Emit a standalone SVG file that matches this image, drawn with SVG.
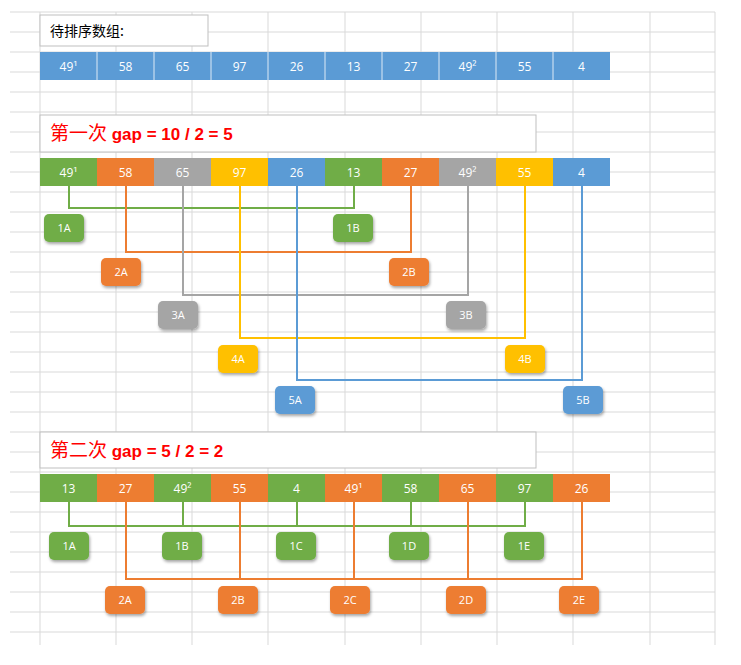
<svg xmlns="http://www.w3.org/2000/svg" width="741" height="665" viewBox="0 0 741 665">
<defs>
<style>
.g{stroke:#d9d9d9;stroke-width:1}
.c{stroke:#fff;stroke-width:0.8}
.ct{font-family:"Open Sans","Liberation Sans",sans-serif;font-size:12px;fill:#fff;text-anchor:middle}
.bt{font-family:"Open Sans","Liberation Sans",sans-serif;font-size:11px;fill:#fff;text-anchor:middle}
.tt{font-family:"Liberation Sans","Noto Sans CJK SC",sans-serif;font-weight:bold;font-size:17px;fill:#ff0000}
.box{fill:#fff;stroke:#bfbfbf;stroke-width:1}
.ln{fill:none;stroke-width:2}
.B{fill:#5b9bd5}.G{fill:#70ad47}.O{fill:#ed7d31}.H{fill:#a5a5a5}.Y{fill:#ffc000}
</style>
<filter id="sh" x="-30%" y="-30%" width="160%" height="160%"><feDropShadow dx="1" dy="2" stdDeviation="1.5" flood-opacity="0.35"/></filter>
</defs>
<rect width="741" height="665" fill="#fff"/>
<g id="grid">
<path class="g" d="M10 12H715M10 32H715M10 52H715M10 72H715M10 92H715M10 112H715M10 132H715M10 152H715M10 172H715M10 192H715M10 212H715M10 232H715M10 252H715M10 272H715M10 292H715M10 312H715M10 332H715M10 352H715M10 372H715M10 392H715M10 412H715M10 432H715M10 452H715M10 472H715M10 492H715M10 512H715M10 532H715M10 552H715M10 572H715M10 592H715M10 612H715M10 632H715"/>
<path class="g" d="M40 12V645M116 12V645M192 12V645M268 12V645M345 12V645M421 12V645M497 12V645M573 12V645M650 12V645M715 12V645"/>
</g>
<g id="title0"><rect class="box" x="40" y="15" width="168" height="31"/><text x="50" y="36" font-family="Noto Sans CJK SC,sans-serif" font-size="14" fill="#000">待排序数组:</text></g>
<g id="row0">
<rect class="B" x="40" y="52" width="570" height="28"/>
<path class="c" d="M97 52V80M154 52V80M211 52V80M268 52V80M325 52V80M382 52V80M439 52V80M496 52V80M553 52V80" stroke="#3f6f9f"/>
<text class="ct" y="71"><tspan x="68.5">49¹</tspan><tspan x="125.5">58</tspan><tspan x="182.5">65</tspan><tspan x="239.5">97</tspan><tspan x="296.5">26</tspan><tspan x="353.5">13</tspan><tspan x="410.5">27</tspan><tspan x="467.5">49²</tspan><tspan x="524.5">55</tspan><tspan x="581.5">4</tspan></text>
</g>
<g id="title1"><rect class="box" x="40" y="115" width="496" height="37"/><text class="tt" x="50" y="140"><tspan font-family="Noto Sans CJK SC,serif" font-weight="normal" font-size="19">第一次</tspan> gap = 10 / 2 = 5</text></g>
<g id="row1">
<rect class="G" x="40" y="158" width="57" height="28"/><rect class="O" x="97" y="158" width="57" height="28"/><rect class="H" x="154" y="158" width="57" height="28"/><rect class="Y" x="211" y="158" width="57" height="28"/><rect class="B" x="268" y="158" width="57" height="28"/><rect class="G" x="325" y="158" width="57" height="28"/><rect class="O" x="382" y="158" width="57" height="28"/><rect class="H" x="439" y="158" width="57" height="28"/><rect class="Y" x="496" y="158" width="57" height="28"/><rect class="B" x="553" y="158" width="57" height="28"/>
<text class="ct" y="177"><tspan x="68.5">49¹</tspan><tspan x="125.5">58</tspan><tspan x="182.5">65</tspan><tspan x="239.5">97</tspan><tspan x="296.5">26</tspan><tspan x="353.5">13</tspan><tspan x="410.5">27</tspan><tspan x="467.5">49²</tspan><tspan x="524.5">55</tspan><tspan x="581.5">4</tspan></text>
</g>
<g id="connectors">
<path class="ln" stroke="#70ad47" d="M69 186V208H354V186"/>
<path class="ln" stroke="#ed7d31" d="M126 186V252H411V186"/>
<path class="ln" stroke="#a5a5a5" d="M183 186V295H468V186"/>
<path class="ln" stroke="#ffc000" d="M240 186V338H525V186"/>
<path class="ln" stroke="#5b9bd5" d="M297 186V380H582V186"/>
<path class="ln" stroke="#70ad47" d="M69 502V526H525V502M183 502V526M297 502V526M411 502V526"/>
<path class="ln" stroke="#ed7d31" d="M126 502V579H582V502M240 502V579M354 502V579M468 502V579"/>
</g>
<g id="badges1" filter="url(#sh)">
<rect class="G" x="44" y="214" width="40" height="28" rx="5"/><rect class="G" x="333" y="214" width="40" height="28" rx="5"/>
<rect class="O" x="101" y="258" width="40" height="28" rx="5"/><rect class="O" x="389" y="258" width="40" height="28" rx="5"/>
<rect class="H" x="158" y="301" width="40" height="28" rx="5"/><rect class="H" x="446" y="301" width="40" height="28" rx="5"/>
<rect class="Y" x="218" y="345" width="40" height="28" rx="5"/><rect class="Y" x="505" y="345" width="40" height="28" rx="5"/>
<rect class="B" x="275" y="386" width="40" height="28" rx="5"/><rect class="B" x="563" y="386" width="40" height="28" rx="5"/>
</g>
<g id="badges1t">
<text class="bt" x="64" y="232">1A</text><text class="bt" x="353" y="232">1B</text>
<text class="bt" x="121" y="276">2A</text><text class="bt" x="409" y="276">2B</text>
<text class="bt" x="178" y="319">3A</text><text class="bt" x="466" y="319">3B</text>
<text class="bt" x="238" y="363">4A</text><text class="bt" x="525" y="363">4B</text>
<text class="bt" x="295" y="404">5A</text><text class="bt" x="583" y="404">5B</text>
</g>
<g id="title2"><rect class="box" x="40" y="432" width="496" height="36"/><text class="tt" x="50" y="457"><tspan font-family="Noto Sans CJK SC,serif" font-weight="normal" font-size="19">第二次</tspan> gap = 5 / 2 = 2</text></g>
<g id="row2">
<rect class="G" x="40" y="474" width="57" height="28"/><rect class="O" x="97" y="474" width="57" height="28"/><rect class="G" x="154" y="474" width="57" height="28"/><rect class="O" x="211" y="474" width="57" height="28"/><rect class="G" x="268" y="474" width="57" height="28"/><rect class="O" x="325" y="474" width="57" height="28"/><rect class="G" x="382" y="474" width="57" height="28"/><rect class="O" x="439" y="474" width="57" height="28"/><rect class="G" x="496" y="474" width="57" height="28"/><rect class="O" x="553" y="474" width="57" height="28"/>
<text class="ct" y="493"><tspan x="68.5">13</tspan><tspan x="125.5">27</tspan><tspan x="182.5">49²</tspan><tspan x="239.5">55</tspan><tspan x="296.5">4</tspan><tspan x="353.5">49¹</tspan><tspan x="410.5">58</tspan><tspan x="467.5">65</tspan><tspan x="524.5">97</tspan><tspan x="581.5">26</tspan></text>
</g>
<g id="badges2" filter="url(#sh)">
<rect class="G" x="49" y="532" width="40" height="28" rx="5"/><rect class="G" x="162" y="532" width="40" height="28" rx="5"/><rect class="G" x="276" y="532" width="40" height="28" rx="5"/><rect class="G" x="389" y="532" width="40" height="28" rx="5"/><rect class="G" x="504" y="532" width="40" height="28" rx="5"/>
<rect class="O" x="105" y="586" width="40" height="28" rx="5"/><rect class="O" x="218" y="586" width="40" height="28" rx="5"/><rect class="O" x="330" y="586" width="40" height="28" rx="5"/><rect class="O" x="446" y="586" width="40" height="28" rx="5"/><rect class="O" x="559" y="586" width="40" height="28" rx="5"/>
</g>
<g id="badges2t">
<text class="bt" x="69" y="550">1A</text><text class="bt" x="182" y="550">1B</text><text class="bt" x="296" y="550">1C</text><text class="bt" x="409" y="550">1D</text><text class="bt" x="524" y="550">1E</text>
<text class="bt" x="125" y="604">2A</text><text class="bt" x="238" y="604">2B</text><text class="bt" x="350" y="604">2C</text><text class="bt" x="466" y="604">2D</text><text class="bt" x="579" y="604">2E</text>
</g>
</svg>
